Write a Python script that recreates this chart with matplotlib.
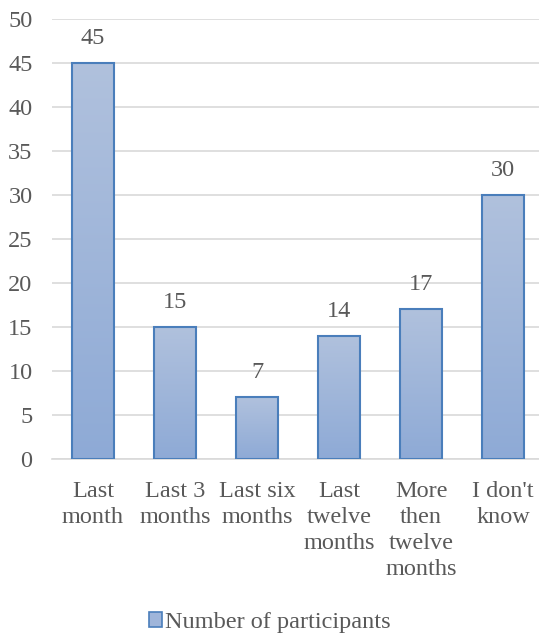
import numpy as np
from matplotlib import pyplot as plt
from matplotlib.patches import Patch
from matplotlib.colors import LinearSegmentedColormap

categories = ["Last\nmonth", "Last 3\nmonths", "Last six\nmonths", "Last\ntwelve\nmonths",
              "More\nthen\ntwelve\nmonths", "I don't\nknow"]
participants = [45, 15, 7, 14, 17, 30]
yticks = [0, 5, 10, 15, 20, 25, 30, 35, 40, 45, 50]

plt.rcParams['font.family'] = ['Liberation Serif', 'DejaVu Serif']
txt = '#595959'
fs = 17.5

fig = plt.figure(figsize=(5.39, 6.34), dpi=100)
ax = fig.add_axes([0.0965, 0.276, 0.913, 0.694])

x = np.arange(len(categories))
width = 0.51
bars = ax.bar(x, participants, width, facecolor='none', edgecolor='#4a7ebb', linewidth=1.5, zorder=3)

# vertical gradient fill, lighter at top
grad = np.linspace(0, 1, 256).reshape(-1, 1)
cmap = LinearSegmentedColormap.from_list('g', ['#8eaad6', '#b0c1dd'])
for b in bars:
    x0, y0 = b.get_x(), b.get_y()
    w, h = b.get_width(), b.get_height()
    im = ax.imshow(grad, extent=[x0, x0 + w, y0, y0 + h], origin='lower', cmap=cmap,
                   aspect='auto', zorder=2)
    im.set_clip_path(b)
    ax.text(x0 + w / 2, h + 1.6, str(int(h)), ha='center', va='bottom', fontsize=fs, color=txt)

ax.set_xlim(-0.5, len(categories) - 0.5)
ax.set_ylim(0, 50)
ax.set_yticks(yticks)
ax.set_xticks(x)
ax.set_xticklabels(categories, fontsize=fs, color=txt, linespacing=1.3)
ax.tick_params(axis='y', labelsize=fs, labelcolor=txt, length=0, pad=14)
ax.tick_params(axis='x', length=0, pad=16)
ax.grid(axis='y', color='#d9d9d9', linewidth=1.2, zorder=0)
for s in ['top', 'right', 'left']:
    ax.spines[s].set_visible(False)
ax.spines['bottom'].set_color('#d9d9d9')
ax.spines['bottom'].set_linewidth(1.2)

handle = Patch(facecolor='#9fb5da', edgecolor='#4a7ebb', linewidth=1.2)
fig.legend([handle], ['Number of participants'], loc='center', bbox_to_anchor=(0.5, 0.018),
           frameon=False, fontsize=fs, labelcolor=txt, handlelength=0.55, handleheight=0.55,
           handletextpad=0.1)

fig.savefig('out.png', dpi=100)
